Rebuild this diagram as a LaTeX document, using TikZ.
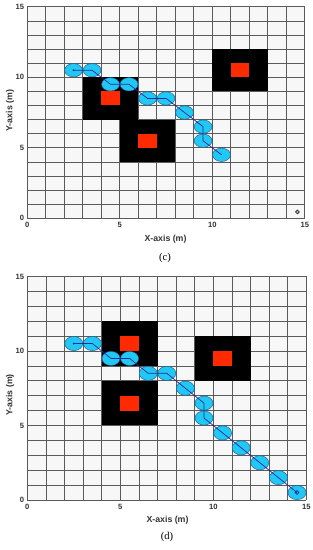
\documentclass[tikz,border=0pt]{standalone}
\usepackage{fontspec}
\setmainfont{Liberation Serif}
\setsansfont{Liberation Sans}
\usepackage{xcolor}
\definecolor{gridln}{HTML}{5A5A5A}
\definecolor{cellbg}{HTML}{F7F7F7}
\definecolor{wpfill}{HTML}{22C8F4}
\definecolor{wpedge}{HTML}{1F5C96}
\definecolor{routeblue}{HTML}{1B2A9C}
\definecolor{core}{HTML}{FF2A00}
\definecolor{axtext}{HTML}{333333}
\usepackage{tikz}
\usetikzlibrary{calc}

\begin{document}
\begin{tikzpicture}[
  x=0.03cm,y=0.03cm,
  cellgrid/.style={draw=gridln,line width=0.55pt},
  obst/.style={fill=black},
  hot/.style={fill=core},
  wp/.style={draw=wpedge,line width=0.4pt,fill=wpfill},
  routeln/.style={draw=routeblue,line width=0.6pt},
  goalmk/.style={draw=axtext,line width=0.7pt,fill=gray!45},
  ticklbl/.style={font=\sffamily\bfseries\fontsize{6.5}{7}\selectfont,text=axtext,inner sep=0pt},
  axlbl/.style={font=\sffamily\bfseries\fontsize{7.5}{9}\selectfont,text=axtext,inner sep=0pt},
  panelcap/.style={font=\fontsize{9}{10}\selectfont,inner sep=0pt},
]
\useasboundingbox (0,0) rectangle (313,550);

% panel (c)
\begin{scope}[xshift=0.819cm,yshift=9.951cm,x=0.555cm,y=0.423cm]
\fill[cellbg] (0,0) rectangle (15,15);
\foreach \k in {0,...,15}{
  \draw[cellgrid] (\k,0) -- (\k,15);
  \draw[cellgrid] (0,\k) -- (15,\k);
}
\foreach \ox/\oy in {3/7,5/4,10/9}{
  \fill[obst] (\ox,\oy) rectangle ++(3,3);
  \fill[hot] (\ox+1,\oy+1) rectangle ++(1,1);
}
\foreach \px/\py [count=\i] in {2.5/10.5,3.5/10.5,4.5/9.5,5.5/9.5,6.5/8.5,7.5/8.5,8.5/7.5,9.5/6.5,9.5/5.5,10.5/4.5}
  \coordinate (c\i) at (\px,\py);
\foreach \i in {1,...,10}
  \draw[wp] (c\i) ellipse [x radius=0.268cm,y radius=0.2cm];
\draw[routeln] (c1) \foreach \i in {2,...,10}{-- (c\i)};
\fill[routeblue] (c1) circle (0.9pt);
\coordinate (cgoal) at (14.6,0.45);
\draw[goalmk] (cgoal) circle (1.6pt);
% ticks
\foreach \v in {0,5,10,15}{
  \node[ticklbl,anchor=north,yshift=-3.3pt] (cx\v) at (\v,0) {\v};
  \node[ticklbl,anchor=east,xshift=-2.5pt] (cy\v) at (0,\v) {\v};
}
\end{scope}
\node[axlbl] (cxt) at (165.5,311) {X-axis (m)};
\node[axlbl,rotate=90] (cyt) at (10,439.3) {Y-axis (m)};
\node[panelcap] (ccap) at (165,292) {(c)};

% panel (d)
\begin{scope}[xshift=0.819cm,yshift=1.5cm,x=0.558cm,y=0.447cm]
\fill[cellbg] (0,0) rectangle (15,15);
\foreach \k in {0,...,15}{
  \draw[cellgrid] (\k,0) -- (\k,15);
  \draw[cellgrid] (0,\k) -- (15,\k);
}
\foreach \ox/\oy in {4/9,4/5,9/8}{
  \fill[obst] (\ox,\oy) rectangle ++(3,3);
  \fill[hot] (\ox+1,\oy+1) rectangle ++(1,1);
}
\foreach \px/\py [count=\i] in {2.5/10.5,3.5/10.5,4.5/9.5,5.5/9.5,6.5/8.5,7.5/8.5,8.5/7.5,9.5/6.5,9.5/5.5,10.5/4.5,11.5/3.5,12.5/2.5,13.5/1.5,14.5/0.5}
  \coordinate (d\i) at (\px,\py);
\foreach \i in {1,...,14}
  \draw[wp] (d\i) ellipse [x radius=0.27cm,y radius=0.212cm];
\draw[routeln] (d1) \foreach \i in {2,...,14}{-- (d\i)};
\fill[routeblue] (d1) circle (0.9pt);
\draw[routeblue,line width=0.6pt] (d14) circle (1.6pt);
% ticks
\foreach \v in {0,5,10,15}{
  \node[ticklbl,anchor=north,yshift=-3.3pt] (dx\v) at (\v,0) {\v};
  \node[ticklbl,anchor=east,xshift=-2.5pt] (dy\v) at (0,\v) {\v};
}
\end{scope}
\node[axlbl] (dxt) at (167.5,30) {X-axis (m)};
\node[axlbl,rotate=90] (dyt) at (10,155) {Y-axis (m)};
\node[panelcap] (dcap) at (167,13.3) {(d)};
\end{tikzpicture}
\end{document}
